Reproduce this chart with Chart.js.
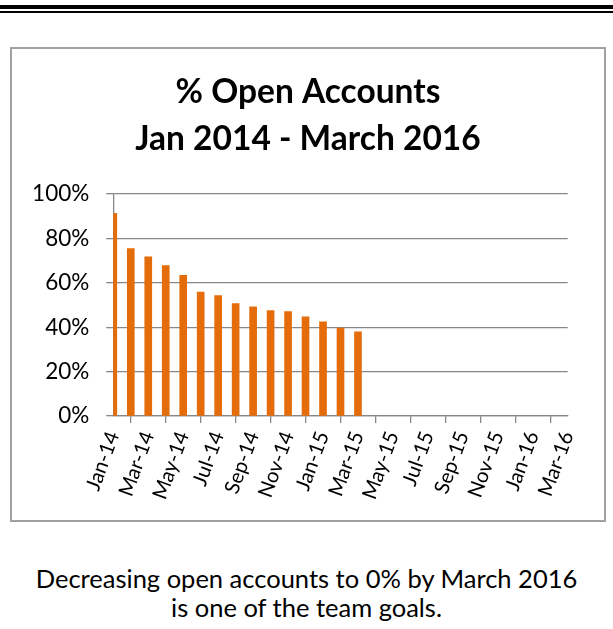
<!DOCTYPE html>
<html>
<head>
<meta charset="utf-8">
<script src="https://cdn.jsdelivr.net/npm/chart.js@4.4.1/dist/chart.umd.min.js"></script>
<style>
  body { margin: 0; background: #fff; width: 613px; height: 629px; position: relative; overflow: hidden; font-family: Lato, sans-serif; }
  .rule-thick { position: absolute; left: 0; top: 5px; width: 613px; height: 4px; background: #000; }
  .rule-thin { position: absolute; left: 0; top: 11px; width: 613px; height: 2px; background: #000; }
  .box { position: absolute; left: 10px; top: 47px; width: 592px; height: 471px; border: 2px solid #a0a0a0; }
  #chart { position: absolute; left: 13px; top: 50px; }
  .note { position: absolute; left: 0; top: 564px; width: 613px; text-align: center; font-size: 25.5px; line-height: 29px; color: #000; }
</style>
</head>
<body>
<div class="rule-thick"></div>
<div class="rule-thin"></div>
<div class="box"></div>
<canvas id="chart" width="590" height="469"></canvas>
<div class="note">Decreasing open accounts to 0% by March 2016<br>is one of the team goals.</div>
<script>
// months on the date axis, Jan-14 .. Mar-16
const months = ['Jan-14', 'Feb-14', 'Mar-14', 'Apr-14', 'May-14', 'Jun-14', 'Jul-14', 'Aug-14', 'Sep-14',
  'Oct-14', 'Nov-14', 'Dec-14', 'Jan-15', 'Feb-15', 'Mar-15', 'Apr-15', 'May-15', 'Jun-15', 'Jul-15',
  'Aug-15', 'Sep-15', 'Oct-15', 'Nov-15', 'Dec-15', 'Jan-16', 'Feb-16', 'Mar-16'];

// share of open accounts, only reported up to Mar-15
const openShare = [0.913, 0.755, 0.717, 0.678, 0.634, 0.558, 0.543, 0.507, 0.492,
  0.475, 0.471, 0.447, 0.424, 0.396, 0.379];

const yTicks = [0, 0.2, 0.4, 0.6, 0.8, 1];

const titleLines = ['% Open Accounts', 'Jan 2014 - March 2016'];

const gridGray = '#878787';

const ctx = document.getElementById('chart').getContext('2d');

new Chart(ctx, {
  type: 'bar',
  data: {
    labels: months,
    datasets: [{
      data: openShare,
      backgroundColor: '#E46C0A',
      barThickness: 7,
      clip: 0,
    }],
  },
  options: {
    responsive: false,
    animation: false,
    layout: { padding: 0 },
    plugins: {
      legend: { display: false },
      tooltip: { enabled: false },
      title: {
        display: true,
        text: titleLines,
        color: '#000',
        font: { family: 'Lato', size: 33.5, weight: 'bold', lineHeight: 1.42 },
        padding: { top: 18, bottom: 31 },
      },
    },
    scales: {
      x: {
        type: 'category',
        offset: false,
        grid: {
          drawOnChartArea: false,
          drawTicks: true,
          tickLength: 7,
          color: gridGray,
          lineWidth: 1.3,
        },
        border: { display: true, color: gridGray, width: 1.3 },
        ticks: {
          autoSkip: false,
          maxRotation: 70,
          minRotation: 70,
          padding: 5,
          color: '#000',
          font: { family: 'Lato', size: 20.5 },
          callback: function (value, index) {
            return index % 2 ? null : months[index];
          },
        },
        afterFit: function (scale) { scale.height = 103; },
      },
      y: {
        min: 0,
        max: 1,
        afterBuildTicks: function (scale) {
          scale.ticks = yTicks.map(v => ({ value: v }));
        },
        grid: {
          color: gridGray,
          lineWidth: 1.3,
          tickLength: 7,
        },
        border: { display: true, color: gridGray, width: 1.3 },
        ticks: {
          padding: 17,
          color: '#000',
          font: { family: 'Lato', size: 22.5 },
          callback: function (value) { return Math.round(value * 100) + '%'; },
        },
        afterFit: function (scale) { scale.width = 100.3; },
      },
      // empty right-hand axis: only reserves the blank strip right of the plot
      yRight: {
        position: 'right',
        display: true,
        grid: { display: false },
        border: { display: false },
        ticks: { display: false },
        afterFit: function (scale) { scale.width = 35.3; },
      },
    },
  },
});
</script>
</body>
</html>
